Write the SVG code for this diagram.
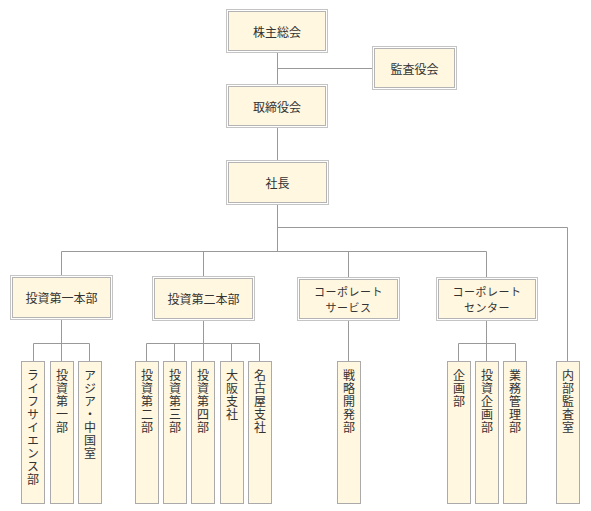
<svg xmlns="http://www.w3.org/2000/svg" width="591" height="511" viewBox="0 0 591 511">
<style>
  .o{fill:#ffffff;stroke:#c4c4c4;stroke-width:1}
  .i{fill:#fff7e0;stroke:#b4b4b4;stroke-width:1}
  .s{fill:#fff7e0;stroke:#aaaaaa;stroke-width:1}
  .t{font-family:"Noto Sans CJK JP","Noto Sans",sans-serif;font-size:12px;fill:#333333;text-anchor:middle;dominant-baseline:central}
  .t2{font-size:11px;letter-spacing:0.5px}
  .v{font-family:"Noto Sans CJK JP","Noto Sans",sans-serif;font-size:12px;fill:#333333;writing-mode:vertical-rl;text-orientation:upright;letter-spacing:1px}
  .c{fill:none;stroke:#999999;stroke-width:1}
</style>
<rect width="591" height="511" fill="#ffffff"/>
<g id="connectors" class="c">
  <path d="M277.5 53V84.5M277.5 68.5H372.5M277.5 127.5V160.5M277.5 204.5V251.5M277.5 227.5H567.5V361.5"/>
  <path d="M61.5 251.5H486.5M61.5 251.5V275.5M203.5 251.5V276.5M348.5 251.5V277.5M486.5 251.5V277.5"/>
  <path d="M61.5 319.5V343.5M33.5 361.5V343.5H89.5V361.5M61.5 343.5V361.5"/>
  <path d="M203.5 320.5V361.5M146.5 361.5V343.5H259.5V361.5M174.5 343.5V361.5M231.5 343.5V361.5"/>
  <path d="M348.5 320.5V361.5"/>
  <path d="M486.5 320.5V361.5M458.5 361.5V343.5H515.5V361.5"/>
</g>
<g id="kabunushi"><rect class="o" x="226.5" y="9.5" width="101" height="43"/><rect class="i" x="228.5" y="11.5" width="97" height="39"/><text class="t" x="277" y="31">株主総会</text></g>
<g id="kansayaku"><rect class="o" x="372.5" y="46.5" width="84" height="43"/><rect class="i" x="374.5" y="48.5" width="80" height="39"/><text class="t" x="414.5" y="68">監査役会</text></g>
<g id="torishimariyaku"><rect class="o" x="226.5" y="84.5" width="101" height="43"/><rect class="i" x="228.5" y="86.5" width="97" height="39"/><text class="t" x="277" y="106">取締役会</text></g>
<g id="shacho"><rect class="o" x="226.5" y="160.5" width="102" height="44"/><rect class="i" x="228.5" y="162.5" width="98" height="40"/><text class="t" x="277.5" y="182">社長</text></g>
<g id="toshi1"><rect class="o" x="10.5" y="275.5" width="102" height="44"/><rect class="i" x="12.5" y="277.5" width="98" height="40"/><text class="t" x="61.5" y="297">投資第一本部</text></g>
<g id="toshi2"><rect class="o" x="152.5" y="276.5" width="102" height="44"/><rect class="i" x="154.5" y="278.5" width="98" height="40"/><text class="t" x="203.5" y="298">投資第二本部</text></g>
<g id="corpservice"><rect class="o" x="297.5" y="277.5" width="102" height="43"/><rect class="i" x="299.5" y="279.5" width="98" height="39"/><text class="t t2" x="348.5" y="290.5">コーポレート</text><text class="t t2" x="348.5" y="306.5">サービス</text></g>
<g id="corpcenter"><rect class="o" x="436.5" y="277.5" width="101" height="43"/><rect class="i" x="438.5" y="279.5" width="97" height="39"/><text class="t t2" x="487" y="290.5">コーポレート</text><text class="t t2" x="487" y="306.5">センター</text></g>
<g id="lifescience"><rect class="s" x="21.5" y="361.5" width="23" height="142"/><text class="v" x="33" y="369">ライフサイエンス部</text></g>
<g id="toshi1bu"><rect class="s" x="50.5" y="361.5" width="23" height="142"/><text class="v" x="62" y="369">投資第一部</text></g>
<g id="asia"><rect class="s" x="78.5" y="361.5" width="23" height="142"/><text class="v" x="90" y="369">アジア・中国室</text></g>
<g id="toshi2bu"><rect class="s" x="135.5" y="361.5" width="23" height="142"/><text class="v" x="147" y="369">投資第二部</text></g>
<g id="toshi3bu"><rect class="s" x="163.5" y="361.5" width="23" height="142"/><text class="v" x="175" y="369">投資第三部</text></g>
<g id="toshi4bu"><rect class="s" x="191.5" y="361.5" width="23" height="142"/><text class="v" x="203" y="369">投資第四部</text></g>
<g id="osaka"><rect class="s" x="220.5" y="361.5" width="23" height="142"/><text class="v" x="232" y="369">大阪支社</text></g>
<g id="nagoya"><rect class="s" x="248.5" y="361.5" width="23" height="142"/><text class="v" x="260" y="369">名古屋支社</text></g>
<g id="senryaku"><rect class="s" x="337.5" y="361.5" width="23" height="142"/><text class="v" x="349" y="369">戦略開発部</text></g>
<g id="kikaku"><rect class="s" x="447.5" y="361.5" width="23" height="142"/><text class="v" x="459" y="369">企画部</text></g>
<g id="toshikikaku"><rect class="s" x="475.5" y="361.5" width="23" height="142"/><text class="v" x="487" y="369">投資企画部</text></g>
<g id="gyomu"><rect class="s" x="503.5" y="361.5" width="23" height="142"/><text class="v" x="515" y="369">業務管理部</text></g>
<g id="naibukansa"><rect class="s" x="556.5" y="361.5" width="23" height="142"/><text class="v" x="568" y="369">内部監査室</text></g>
</svg>
